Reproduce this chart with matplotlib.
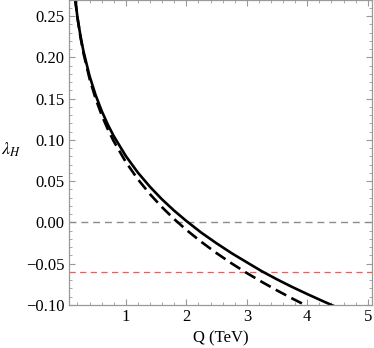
import matplotlib
matplotlib.use('Agg')
import matplotlib.pyplot as plt
from matplotlib.ticker import MultipleLocator

# values (smoothed by eye)
q_solid = [0.13, 0.15, 0.2, 0.25, 0.3, 0.4, 0.5, 0.6, 0.7, 0.8, 1.0, 1.2, 1.4,
           1.6, 1.8, 2.0, 2.25, 2.5, 2.75, 3.0, 3.25, 3.5, 3.75, 4.0, 4.25, 4.5]
lam_solid = [0.292, 0.2775, 0.2485, 0.2258, 0.2071, 0.1774, 0.1543, 0.1352,
             0.1188, 0.1046, 0.0804, 0.0603, 0.0431, 0.0278, 0.0142, 0.0018,
             -0.0125, -0.0253, -0.0373, -0.0483, -0.0592, -0.0690, -0.0782,
             -0.0868, -0.0951, -0.1032]

q_dash = [0.13, 0.15, 0.2, 0.25, 0.3, 0.4, 0.5, 0.6, 0.7, 0.8, 1.0, 1.2, 1.4,
          1.6, 1.8, 2.0, 2.25, 2.5, 2.75, 3.0, 3.25, 3.5, 3.75, 4.0]
lam_dash = [0.2932, 0.2781, 0.2478, 0.2243, 0.2049, 0.1741, 0.1500, 0.1301,
            0.1131, 0.0983, 0.0731, 0.0522, 0.0342, 0.0183, 0.0040, -0.0090,
            -0.0237, -0.0372, -0.0497, -0.0613, -0.0721, -0.0824, -0.0921,
            -0.1014]

zero_level = 0.0
red_level = -0.060

plt.rcParams['font.family'] = ['Liberation Serif', 'DejaVu Serif']
plt.rcParams['mathtext.fontset'] = 'stix'

fig = plt.figure(figsize=(3.74, 3.48), dpi=100)
ax = fig.add_axes([0.1845, 0.1236, 0.8102, 0.8764])

ax.axhline(zero_level, color='#8c8c8c', lw=1.0, dashes=(5, 3.5))
ax.axhline(red_level, color='#ff5555', lw=0.9, dashes=(5, 3.5))
ax.plot(q_solid, lam_solid, color='black', lw=1.9)
ax.plot(q_dash, lam_dash, color='black', lw=1.9, dashes=(4.5, 2.2))

ax.set_xlim(0.06, 5.07)
ax.set_ylim(-0.10, 0.2695)

ax.xaxis.set_major_locator(MultipleLocator(1))
ax.xaxis.set_minor_locator(MultipleLocator(0.2))
ax.yaxis.set_major_locator(MultipleLocator(0.05))
ax.yaxis.set_minor_locator(MultipleLocator(0.01))
ax.yaxis.set_major_formatter(lambda v, p: ('\u2212' if v < -1e-9 else '') + f'{abs(v):.2f}')

for s in ax.spines.values():
    s.set_color('#999999')
    s.set_linewidth(0.9)
ax.tick_params(which='both', direction='in', top=True, right=True,
               color='#999999', labelsize=12, pad=3)
ax.tick_params(which='major', length=4, width=0.8)
ax.tick_params(which='minor', length=2, width=0.6)

ax.set_xlabel('Q (TeV)', fontsize=12, labelpad=4)
ax.set_ylabel(r'$\lambda_H$', fontsize=13, rotation=0, labelpad=0)
ax.yaxis.set_label_coords(-0.19, 0.48)

fig.savefig('out.png', dpi=100)
